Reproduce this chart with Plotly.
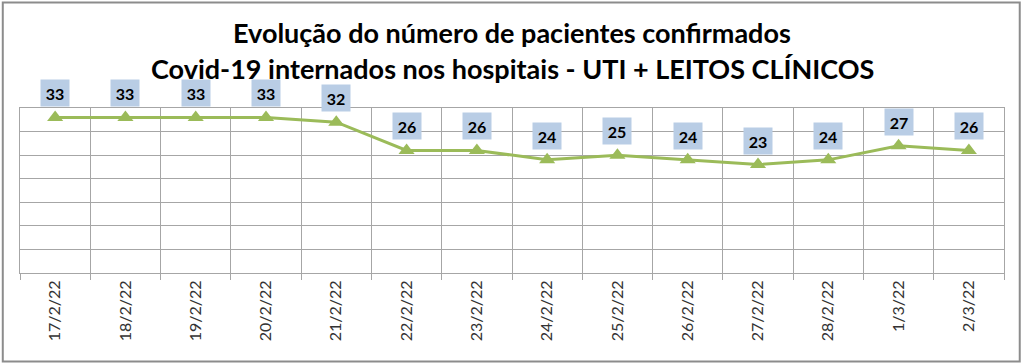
import plotly.graph_objects as go

dates = ["17/2/22", "18/2/22", "19/2/22", "20/2/22", "21/2/22", "22/2/22", "23/2/22",
         "24/2/22", "25/2/22", "26/2/22", "27/2/22", "28/2/22", "1/3/22", "2/3/22"]
pacientes = [33, 33, 33, 33, 32, 26, 26, 24, 25, 24, 23, 24, 27, 26]
title_lines = ["Evolução do número de pacientes confirmados",
               "Covid-19 internados nos hospitais - UTI + LEITOS CLÍNICOS"]

GREEN = "#9BBB59"
GRID = "#A6A6A6"
FONT = "Lato"

fig = go.Figure()
fig.add_trace(go.Scatter(
    x=dates, y=pacientes, mode="lines+markers",
    line=dict(color=GREEN, width=3),
    marker=dict(symbol="triangle-up", size=14, color=GREEN),
    hoverinfo="x+y", showlegend=False,
))

annotations = []
for d, v in zip(dates, pacientes):
    annotations.append(dict(
        x=d, y=v, xref="x", yref="y", text=f"<b>{v}</b>", showarrow=False,
        yshift=24, bgcolor="#B9CDE5", width=26, height=24,
        font=dict(family=FONT, size=16, color="#000000"),
    ))
for txt, yy in zip(title_lines, [1.46, 1.238]):
    annotations.append(dict(
        x=0.5, y=yy, xref="paper", yref="paper", text=f"<b>{txt}</b>",
        showarrow=False, xanchor="center", yanchor="middle",
        font=dict(family=FONT, size=27, color="#000000"),
    ))

fig.update_layout(
    width=1024, height=364,
    margin=dict(l=20, r=20, t=108, b=91),
    paper_bgcolor="white", plot_bgcolor="white",
    annotations=annotations,
    xaxis=dict(
        type="category", tickson="boundaries", ticks="outside", ticklen=6,
        tickcolor=GRID, showgrid=True, gridcolor=GRID, gridwidth=1,
        showline=True, linecolor=GRID, mirror=True,
        tickangle=-90, tickfont=dict(family=FONT, size=16, color="#333333"),
        range=[-0.5, len(dates) - 0.5], fixedrange=True,
    ),
    yaxis=dict(
        range=[0, 35], dtick=5, showgrid=True, gridcolor=GRID, gridwidth=1,
        showticklabels=False, zeroline=False,
        showline=True, linecolor=GRID, mirror=True, fixedrange=True,
    ),
    shapes=[dict(
        type="rect", xref="paper", yref="paper",
        x0=-0.0175, x1=1.016, y0=-0.536, y1=1.64,
        line=dict(color="#8C8C8C", width=2), fillcolor="rgba(0,0,0,0)",
        layer="above",
    )],
)

fig.write_html("out.html", config={"displayModeBar": False},
               post_script="document.body.style.margin='0';")
